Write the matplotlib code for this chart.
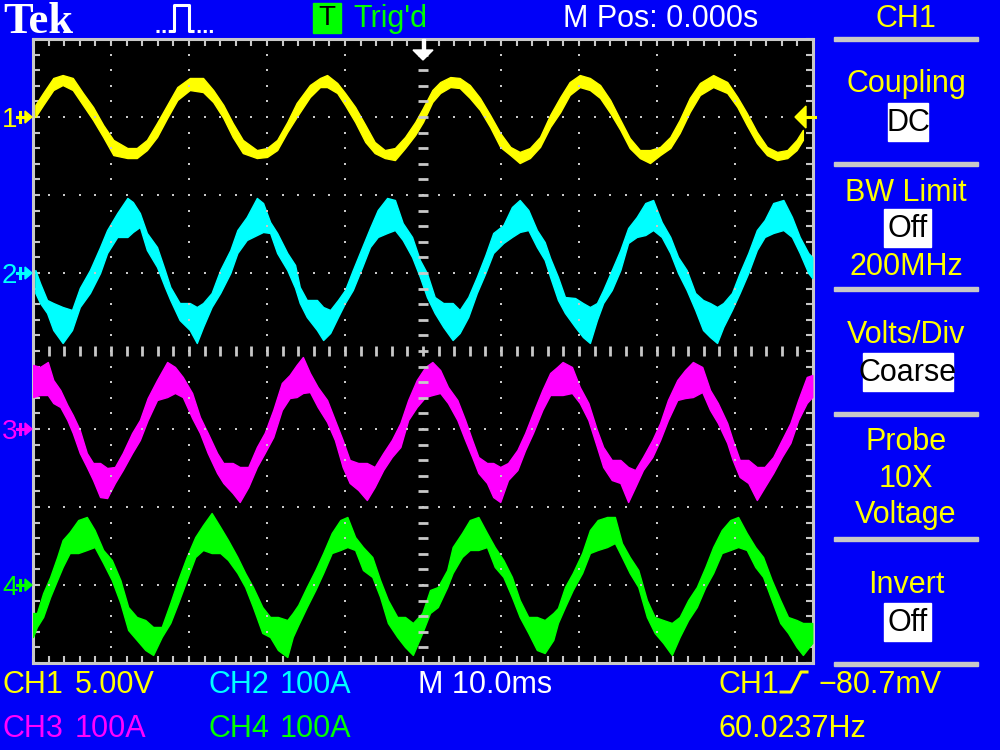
import numpy as np
import matplotlib
matplotlib.use("Agg")
import matplotlib.pyplot as plt
from matplotlib.patches import Rectangle, Polygon

# scope settings shown on the screen
ms_per_div = 10.0
ch1_v_per_div = 5.0
amps_per_div = 100.0
ch_level = {"1": 3, "2": 1, "3": -1, "4": -3}   # ground markers, divisions from centre
ch_color = {"1": "#FFFF00", "2": "#00FFFF", "3": "#FF00FF", "4": "#00FF00"}

# CH1 (volts): time in ms, top and bottom edge of the noisy trace
ch1_t = [-49.7, -48.7, -47.4, -46.2, -44.9, -43.6, -42.3, -41.0, -39.7, -37.9,
         -36.7, -35.4, -34.1, -32.8, -31.5, -29.9, -28.2, -26.9, -25.6, -24.4,
         -23.1, -21.3, -20.0, -18.7, -17.4, -16.2, -14.5, -13.2, -12.3, -11.0,
         -10.0, -8.7, -7.4, -6.2, -4.9, -3.6, -2.3, -1.0, 0.0, 1.2,
         2.2, 3.5, 4.7, 6.0, 7.3, 8.6, 9.9, 11.2, 12.4, 13.7,
         15.0, 16.3, 17.6, 18.8, 20.1, 21.4, 22.7, 24.0, 25.3, 26.5,
         27.8, 29.1, 30.4, 31.7, 32.9, 34.2, 35.5, 37.2, 39.0, 40.3,
         41.5, 42.8, 44.1, 45.4, 46.7, 47.9, 48.7]
ch1_hi = [0.77, 1.54, 2.50, 2.69, 2.50, 1.54, 0.64, -0.51, -1.47, -1.99,
          -1.99, -1.47, -0.38, 0.77, 1.92, 2.50, 2.50, 1.73, 0.77, -0.38,
          -1.47, -2.12, -1.99, -1.47, -0.32, 0.90, 2.05, 2.50, 2.69, 2.18,
          1.54, 0.64, -0.51, -1.60, -2.12, -1.99, -1.28, -0.32, 0.58, 1.73,
          2.24, 2.56, 2.50, 2.05, 1.22, 0.13, -1.03, -1.92, -2.24, -1.99,
          -1.28, 0.13, 1.28, 2.24, 2.69, 2.50, 2.05, 1.09, -0.19, -1.35,
          -2.12, -2.12, -1.92, -1.28, -0.19, 1.22, 2.18, 2.69, 2.24, 1.28,
          0.26, -0.96, -1.92, -2.24, -2.12, -1.47, -0.83]
ch1_lo = [0.0, 0.77, 1.73, 2.05, 1.73, 0.77, -0.19, -1.28, -2.44, -2.63,
          -2.63, -2.12, -1.28, -0.06, 1.09, 1.73, 1.60, 0.96, -0.06, -1.28,
          -2.31, -2.63, -2.56, -2.12, -0.96, 0.0, 1.28, 1.92, 1.92, 1.54,
          0.77, -0.32, -1.60, -2.31, -2.63, -2.76, -1.99, -1.15, -0.32, 0.96,
          1.54, 1.92, 1.86, 1.22, 0.45, -0.64, -1.92, -2.44, -2.95, -2.63,
          -1.92, -0.64, 0.32, 1.41, 1.92, 1.73, 1.22, 0.26, -0.83, -1.99,
          -2.63, -2.95, -2.44, -1.99, -1.03, 0.32, 1.41, 1.92, 1.54, 0.64,
          -0.51, -1.67, -2.44, -2.76, -2.63, -2.12, -1.47]

# CH2 (amps)
ch2_t = [-49.7, -49.1, -48.2, -47.4, -46.2, -45.0, -44.0, -42.7, -41.4, -40.5,
         -39.2, -37.9, -37.2, -36.3, -35.4, -34.1, -33.1, -32.4, -31.2, -29.9,
         -29.0, -28.2, -27.1, -26.0, -24.7, -23.8, -22.6, -21.3, -20.5, -19.6,
         -18.7, -17.4, -16.4, -15.8, -14.9, -13.6, -12.8, -11.9, -10.9, -10.0,
         -9.0, -7.8, -6.8, -5.8, -4.6, -3.6, -2.6, -1.4, -0.4, 0.5,
         1.5, 2.6, 3.8, 4.7, 5.8, 6.9, 8.0, 9.0, 10.3, 11.4,
         12.4, 13.5, 14.6, 15.6, 16.3, 17.3, 18.2, 19.5, 20.5, 21.4,
         22.3, 23.1, 24.2, 25.3, 26.3, 27.4, 28.5, 29.5, 30.6, 31.7,
         32.7, 33.8, 34.9, 35.9, 36.8, 37.7, 38.5, 39.6, 40.6, 41.7,
         42.8, 43.8, 44.9, 46.2, 47.3, 48.3, 49.4, 49.9]
ch2_hi = [3.8, -12.8, -34.6, -38.5, -43.6, -47.4, -19.2, 3.8, 33.3, 55.1,
          76.9, 96.2, 91.0, 76.9, 51.3, 33.3, 3.8, -17.9, -38.5, -38.5,
          -43.6, -38.5, -25.6, 3.8, 29.5, 55.1, 71.8, 96.2, 89.7, 65.4,
          51.3, 25.6, 10.3, -17.9, -34.6, -34.6, -43.6, -47.4, -34.6, -21.8,
          3.8, 33.3, 57.7, 80.8, 96.2, 93.6, 64.1, 46.2, 16.7, 0.0,
          -30.8, -38.5, -38.5, -47.4, -30.8, -5.1, 23.1, 51.3, 61.5, 84.6,
          93.6, 80.8, 55.1, 39.7, 19.2, -5.1, -30.8, -32.1, -38.5, -43.6,
          -38.5, -21.8, 3.8, 29.5, 57.7, 71.8, 89.7, 93.6, 65.4, 46.2,
          20.5, 3.8, -25.6, -34.6, -38.5, -43.6, -38.5, -25.6, 0.0, 25.6,
          55.1, 67.9, 89.7, 93.6, 71.8, 46.2, 25.6, 20.5]
ch2_lo = [-25.6, -38.5, -51.3, -73.1, -89.7, -73.1, -43.6, -25.6, 0.0, 25.6,
          46.2, 46.2, 52.6, 59.0, 29.5, 7.7, -17.9, -34.6, -60.3, -73.1,
          -89.7, -69.2, -43.6, -25.6, 0.0, 25.6, 42.3, 48.7, 52.6, 51.3,
          25.6, 3.8, -19.2, -38.5, -56.4, -73.1, -85.9, -76.9, -56.4, -38.5,
          -21.8, 7.7, 33.3, 46.2, 51.3, 55.1, 42.3, 20.5, -5.1, -30.8,
          -51.3, -69.2, -85.9, -76.9, -56.4, -25.6, 0.0, 25.6, 38.5, 46.2,
          52.6, 55.1, 33.3, 16.7, -5.1, -34.6, -51.3, -69.2, -82.1, -89.7,
          -60.3, -38.5, -21.8, 3.8, 38.5, 46.2, 48.7, 55.1, 46.2, 25.6,
          0.0, -21.8, -47.4, -73.1, -82.1, -89.7, -69.2, -47.4, -25.6, 0.0,
          29.5, 46.2, 51.3, 55.1, 46.2, 25.6, 0.0, -6.4]

# CH3 (amps)
ch3_t = [-50.0, -49.1, -48.1, -47.4, -46.5, -45.6, -44.9, -44.0, -43.1, -42.3,
         -41.4, -40.5, -39.5, -38.5, -37.3, -36.3, -35.3, -34.1, -32.8, -31.8,
         -30.8, -29.6, -28.6, -27.6, -26.4, -25.6, -24.4, -23.5, -22.4, -21.3,
         -20.3, -19.2, -18.1, -17.1, -16.2, -15.4, -14.5, -13.5, -12.3, -11.3,
         -10.3, -9.4, -8.3, -7.2, -6.2, -5.1, -4.0, -2.9, -1.9, -0.8,
         0.3, 1.2, 2.2, 3.2, 4.4, 5.4, 6.3, 7.1, 8.2, 9.0,
         9.9, 10.9, 12.1, 13.1, 14.1, 15.3, 16.3, 17.2, 17.9, 19.1,
         20.1, 21.2, 22.3, 23.1, 24.2, 25.3, 26.3, 27.2, 28.2, 29.4,
         30.4, 31.4, 32.6, 33.6, 34.6, 35.8, 36.8, 37.8, 39.0, 39.7,
         40.6, 41.7, 42.8, 43.8, 44.9, 46.0, 47.1, 48.1, 49.2, 49.9]
ch3_hi = [82.1, 79.5, 85.9, 62.8, 50.0, 30.8, 17.9, -1.3, -30.8, -43.6,
          -43.6, -50.0, -48.7, -30.8, -5.1, 11.5, 39.7, 62.8, 85.9, 79.5,
          66.7, 46.2, 15.4, -5.1, -30.8, -43.6, -43.6, -48.7, -48.7, -23.1,
          -5.1, 24.4, 59.0, 69.2, 82.1, 92.3, 71.8, 53.8, 37.2, 11.5,
          -14.1, -39.7, -43.6, -43.6, -48.7, -30.8, -14.1, 7.7, 37.2, 62.8,
          79.5, 85.9, 75.6, 53.8, 37.2, 11.5, -14.1, -35.9, -43.6, -43.6,
          -48.7, -43.6, -26.9, -5.1, 20.5, 50.0, 71.8, 79.5, 85.9, 79.5,
          53.8, 33.3, -1.3, -23.1, -39.7, -39.7, -48.7, -52.6, -35.9, -14.1,
          7.7, 37.2, 62.8, 75.6, 85.9, 79.5, 50.0, 33.3, 7.7, -14.1,
          -39.7, -39.7, -48.7, -48.7, -35.9, -14.1, 7.7, 37.2, 66.7, 69.2]
ch3_lo = [41.0, 43.6, 43.6, 33.3, 28.2, 11.5, -5.1, -30.8, -48.7, -65.4,
          -87.2, -88.5, -69.2, -52.6, -30.8, -14.1, 11.5, 37.2, 41.0, 46.2,
          41.0, 14.1, -5.1, -30.8, -56.4, -69.2, -82.1, -93.6, -74.4, -48.7,
          -30.8, -10.3, 24.4, 39.7, 41.0, 46.2, 47.4, 28.2, 9.0, -14.1,
          -48.7, -69.2, -78.2, -91.0, -74.4, -52.6, -35.9, -23.1, 11.5, 28.2,
          41.0, 43.6, 46.2, 33.3, 11.5, -14.1, -35.9, -56.4, -69.2, -87.2,
          -93.6, -65.4, -52.6, -26.9, -5.1, 24.4, 43.6, 43.6, 43.6, 46.2,
          33.3, 11.5, -23.1, -48.7, -65.4, -69.2, -93.6, -74.4, -52.6, -35.9,
          -14.1, 11.5, 37.2, 39.7, 41.0, 47.4, 24.4, 7.7, -17.9, -39.7,
          -61.5, -69.2, -91.0, -74.4, -56.4, -35.9, -17.9, 11.5, 33.3, 41.0]

# CH4 (amps)
ch4_t = [-50.0, -49.5, -48.7, -47.8, -46.9, -46.2, -45.3, -44.2, -43.1, -42.1,
         -41.0, -39.9, -38.8, -37.8, -36.7, -35.6, -34.6, -33.5, -32.4, -31.4,
         -30.3, -29.2, -28.2, -27.1, -26.0, -25.0, -23.8, -22.8, -21.8, -20.6,
         -19.6, -18.6, -17.4, -16.7, -16.0, -14.9, -13.8, -12.8, -11.7, -10.6,
         -9.7, -8.7, -7.7, -6.5, -5.5, -4.5, -3.3, -2.3, -1.3, -0.1,
         0.9, 1.9, 3.1, 3.8, 5.0, 6.0, 7.1, 8.2, 9.2, 10.3,
         11.4, 12.4, 13.5, 14.6, 15.6, 16.7, 17.3, 18.2, 19.2, 20.4,
         21.4, 22.4, 23.6, 24.6, 25.5, 26.5, 27.6, 28.7, 29.7, 30.8,
         31.9, 32.9, 34.0, 35.1, 36.2, 37.2, 38.3, 39.4, 40.4, 41.5,
         42.6, 43.6, 44.7, 45.8, 46.8, 47.9, 48.7, 49.9]
ch4_hi = [-35.9, -35.9, -10.3, 10.3, 35.9, 57.7, 67.9, 83.3, 87.2, 70.5,
          44.9, 32.1, 6.4, -28.2, -41.0, -44.9, -53.8, -53.8, -23.1, 6.4,
          35.9, 61.5, 76.9, 92.3, 74.4, 57.7, 35.9, 15.4, -2.6, -28.2,
          -41.0, -41.0, -44.9, -35.9, -25.6, -2.6, 19.2, 41.0, 66.7, 83.3,
          87.2, 61.5, 48.7, 35.9, 6.4, -19.2, -41.0, -41.0, -48.7, -35.9,
          -6.4, -2.6, 19.2, 48.7, 66.7, 83.3, 87.2, 66.7, 48.7, 32.1,
          10.3, -19.2, -41.0, -41.0, -44.9, -35.9, -29.5, -2.6, 15.4, 41.0,
          70.5, 83.3, 87.2, 87.2, 53.8, 35.9, 19.2, -19.2, -41.0, -44.9,
          -48.7, -41.0, -19.2, -2.6, 23.1, 48.7, 70.5, 83.3, 87.2, 66.7,
          48.7, 35.9, 6.4, -19.2, -41.0, -44.9, -48.7, -48.7]
ch4_lo = [-66.7, -53.8, -41.0, -15.4, 6.4, 23.1, 41.0, 41.0, 44.9, 48.7,
          28.2, 6.4, -23.1, -57.7, -70.5, -83.3, -89.7, -66.7, -48.7, -23.1,
          6.4, 35.9, 44.9, 41.0, 41.0, 32.1, 15.4, -2.6, -28.2, -61.5,
          -66.7, -83.3, -92.3, -66.7, -51.3, -28.2, -6.4, 15.4, 41.0, 44.9,
          48.7, 44.9, 19.2, 10.3, -15.4, -48.7, -66.7, -79.5, -89.7, -61.5,
          -35.9, -28.2, -2.6, 15.4, 35.9, 44.9, 44.9, 48.7, 23.1, 10.3,
          -15.4, -41.0, -61.5, -83.3, -87.2, -70.5, -48.7, -28.2, -6.4, 15.4,
          41.0, 44.9, 48.7, 53.8, 35.9, 15.4, -2.6, -41.0, -61.5, -74.4,
          -89.7, -66.7, -44.9, -28.2, -2.6, 15.4, 41.0, 44.9, 48.7, 44.9,
          23.1, 10.3, -19.2, -48.7, -61.5, -79.5, -89.7, -74.4]

plt.rcParams['font.family'] = ['Liberation Sans', 'DejaVu Sans']

blue = '#0000F8'
grey = '#C8C8C8'
yellow = ch_color["1"]
fs = 22

fig = plt.figure(figsize=(10, 7.5), dpi=100, facecolor=blue)

# graticule: 10 x 8 divisions
ax = fig.add_axes([33 / 1000, 87 / 750, 780 / 1000, 624 / 750], facecolor='black')
ax.set_xlim(-5 * ms_per_div, 5 * ms_per_div)
ax.set_ylim(-4, 4)
for s in ax.spines.values():
    s.set_color(grey)
    s.set_linewidth(2.2)
ax.set_xticks(np.arange(-50, 50.1, ms_per_div / 5))
ax.set_yticks(np.arange(-4, 4.01, 0.2))
ax.tick_params(direction='in', length=5, width=1.5, color=grey, top=True, right=True,
               labelbottom=False, labelleft=False)

traces = [("1", ch1_t, ch1_hi, ch1_lo, ch1_v_per_div),
          ("2", ch2_t, ch2_hi, ch2_lo, amps_per_div),
          ("3", ch3_t, ch3_hi, ch3_lo, amps_per_div),
          ("4", ch4_t, ch4_hi, ch4_lo, amps_per_div)]
for ch, t, hi, lo, scale in traces:
    top = ch_level[ch] + np.array(hi) / scale
    bot = ch_level[ch] + np.array(lo) / scale
    ax.fill_between(t, bot, top, color=ch_color[ch], lw=1.0, zorder=3)

# dotted grid lines
major_x = [-40, -30, -20, -10, 10, 20, 30, 40]
major_y = [-3, -2, -1, 1, 2, 3]
minor_x = np.arange(-48, 48.1, 2)
minor_y = np.arange(-3.8, 3.81, 0.2)
gx, gy = np.meshgrid(major_x, minor_y)
ax.plot(gx.ravel(), gy.ravel(), ls='none', marker='s', ms=1.9, mew=0, color=grey, zorder=5)
gx, gy = np.meshgrid(minor_x, major_y)
ax.plot(gx.ravel(), gy.ravel(), ls='none', marker='s', ms=1.9, mew=0, color=grey, zorder=5)
# centre lines with tick marks
ax.plot(np.zeros_like(minor_y), minor_y, ls='none', marker='_', ms=7, mew=2, color=grey, zorder=5)
ax.plot(minor_x, np.zeros_like(minor_x), ls='none', marker='|', ms=7, mew=2, color=grey, zorder=5)

# screen overlay in pixel coordinates
scr = fig.add_axes([0, 0, 1, 1], zorder=10)
scr.set_xlim(0, 1000)
scr.set_ylim(750, 0)
scr.axis('off')

# top bar
scr.text(3, 33, "Tek", family='Liberation Serif', weight='bold', fontsize=32, color='white')
scr.plot([156, 172], [31, 31], color='white', lw=2.2, ls=(0, (1, 1)))
scr.plot([172, 174, 174, 189, 189, 191], [31, 31, 5, 5, 31, 31], color='white', lw=2.2)
scr.plot([191, 213], [31, 31], color='white', lw=2.2, ls=(0, (1, 1)))
scr.add_patch(Rectangle((313, 3), 28, 30, color='#00FF00'))
scr.text(327, 18, "T", color='black', fontsize=20, ha='center', va='center')
scr.text(353, 27, "Trig'd", color='#00FF00', fontsize=fs)
scr.text(563, 27, "M Pos: 0.000s", color='white', fontsize=fs)

# trigger position marker
scr.add_patch(Rectangle((421.5, 39), 3, 12, color='white'))
scr.add_patch(Polygon([(413, 50), (433, 50), (423, 60)], color='white'))
# trigger level marker
scr.add_patch(Polygon([(795, 117), (806, 106), (806, 128)], color=yellow))
scr.plot([804, 815], [117, 117], color=yellow, lw=2.2)

# channel ground markers
for ch in "1234":
    y = 351 - ch_level[ch] * 78
    scr.text(2, y + 10, ch, color=ch_color[ch], fontsize=20)
    scr.plot([17, 26], [y, y], color=ch_color[ch], lw=2.2)
    scr.plot([20, 20], [y - 5, y + 5], color=ch_color[ch], lw=2.2)
    scr.add_patch(Polygon([(25, y - 6), (25, y + 6), (32, y)], color=ch_color[ch]))

# side menu
cx = 906
for y in [39, 164, 289, 414, 539, 664]:
    scr.add_patch(Rectangle((834, y - 2), 144, 4, color=grey))
scr.text(cx, 27, "CH1", color=yellow, fontsize=fs, ha='center')
scr.text(cx, 92, "Coupling", color=yellow, fontsize=fs, ha='center')
scr.add_patch(Rectangle((888, 103), 40, 38, color='white'))
scr.text(908, 123, "DC", color='black', fontsize=fs, ha='center', va='center')
scr.text(cx, 201, "BW Limit", color=yellow, fontsize=fs, ha='center')
scr.add_patch(Rectangle((884, 209), 47, 38, color='white'))
scr.text(907.5, 229, "Off", color='black', fontsize=fs, ha='center', va='center')
scr.text(cx, 275, "200MHz", color=yellow, fontsize=fs, ha='center')
scr.text(cx, 343, "Volts/Div", color=yellow, fontsize=fs, ha='center')
scr.add_patch(Rectangle((863, 353), 90, 38, color='white'))
scr.text(908, 373, "Coarse", color='black', fontsize=fs, ha='center', va='center')
scr.text(cx, 450, "Probe", color=yellow, fontsize=fs, ha='center')
scr.text(cx, 487, "10X", color=yellow, fontsize=fs, ha='center')
scr.text(cx, 523, "Voltage", color=yellow, fontsize=fs, ha='center')
scr.text(cx, 593, "Invert", color=yellow, fontsize=fs, ha='center')
scr.add_patch(Rectangle((884, 603), 47, 38, color='white'))
scr.text(907.5, 623, "Off", color='black', fontsize=fs, ha='center', va='center')

# bottom status lines
scr.text(3, 693, "CH1", color=ch_color["1"], fontsize=fs)
scr.text(75, 693, "5.00V", color=ch_color["1"], fontsize=fs)
scr.text(208, 693, "CH2", color=ch_color["2"], fontsize=fs)
scr.text(280, 693, "100A", color=ch_color["2"], fontsize=fs)
scr.text(418, 693, "M 10.0ms", color='white', fontsize=fs)
scr.text(718, 693, "CH1", color=yellow, fontsize=fs)
scr.plot([781, 791, 801, 807], [692, 692, 672, 672], color=yellow, lw=2.2)
scr.text(819, 693, "\u221280.7mV", color=yellow, fontsize=fs)
scr.text(3, 737, "CH3", color=ch_color["3"], fontsize=fs)
scr.text(75, 737, "100A", color=ch_color["3"], fontsize=fs)
scr.text(208, 737, "CH4", color=ch_color["4"], fontsize=fs)
scr.text(280, 737, "100A", color=ch_color["4"], fontsize=fs)
scr.text(718, 737, "60.0237Hz", color=yellow, fontsize=fs)

fig.savefig("out.png", dpi=100, facecolor=blue)
